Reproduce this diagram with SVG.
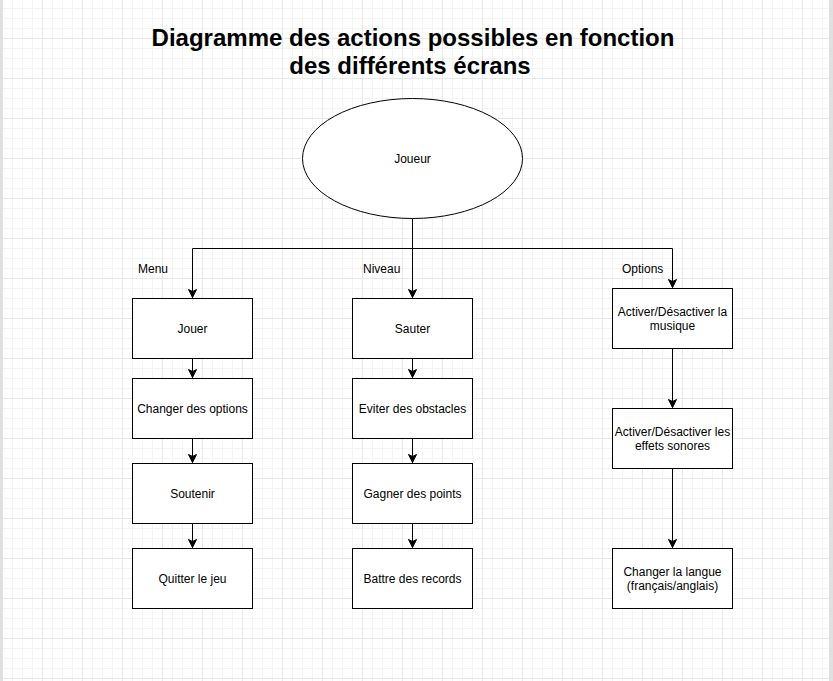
<svg xmlns="http://www.w3.org/2000/svg" width="833" height="681" viewBox="0 0 833 681">
<defs>
<pattern id="grid" x="2" y="-2" width="40" height="40" patternUnits="userSpaceOnUse">
<path d="M10.5,0V40M20.5,0V40M30.5,0V40M0,10.5H40M0,20.5H40M0,30.5H40" stroke="#f4f4f4" stroke-width="1" fill="none"/>
<path d="M0.5,0V40M0,0.5H40" stroke="#e8e8e8" stroke-width="1" fill="none"/>
</pattern>
<marker id="arr" viewBox="0 0 10 10" refX="9" refY="5" markerWidth="10" markerHeight="10" markerUnits="userSpaceOnUse" orient="auto">
<path d="M1,1 L9,5 L1,9 L3,5 Z" fill="#000" stroke="#000" stroke-width="1"/>
</marker>
<style>
.box{fill:#fff;stroke:#000;stroke-width:1}
.t{font-family:"Liberation Sans",Arial,Helvetica,sans-serif;font-size:12px;fill:#000;text-anchor:middle}
.lbl{font-family:"Liberation Sans",Arial,Helvetica,sans-serif;font-size:12px;fill:#000}
.title{font-family:"Liberation Sans",Arial,Helvetica,sans-serif;font-size:24px;font-weight:bold;fill:#000;text-anchor:middle}
.edge{fill:none;stroke:#000;stroke-width:1;marker-end:url(#arr)}
</style>
</defs>
<rect width="833" height="681" fill="#fff"/>
<rect width="833" height="681" fill="url(#grid)"/>
<rect x="0" y="0" width="2.5" height="681" fill="#e0e0e0"/>
<rect x="829" y="0" width="4" height="681" fill="#e0e0e0"/>

<g id="title">
<text class="title" x="413" y="46">Diagramme des actions possibles en fonction</text>
<text class="title" x="410" y="74">des différents écrans</text>
</g>

<g id="labels">
<text class="lbl" x="138" y="273">Menu</text>
<text class="lbl" x="363" y="273">Niveau</text>
<text class="lbl" x="622" y="273">Options</text>
</g>

<g id="connectors">
<path class="edge" d="M412.5,218.5V248.5H192.5V297.5"/>
<path class="edge" d="M412.5,218.5V297.5"/>
<path class="edge" d="M412.5,218.5V248.5H672.5V287.5"/>
<path class="edge" d="M192.5,358.5V377.5"/>
<path class="edge" d="M192.5,438.5V462.5"/>
<path class="edge" d="M192.5,523.5V547.5"/>
<path class="edge" d="M412.5,358.5V377.5"/>
<path class="edge" d="M412.5,438.5V462.5"/>
<path class="edge" d="M412.5,523.5V547.5"/>
<path class="edge" d="M672.5,348.5V407.5"/>
<path class="edge" d="M672.5,468.5V547.5"/>
</g>

<g id="joueur">
<ellipse class="box" cx="412.5" cy="158.5" rx="110" ry="60"/>
<text class="t" x="412.5" y="163">Joueur</text>
</g>

<g id="jouer"><rect class="box" x="132.5" y="298.5" width="120" height="60"/><text class="t" x="192.5" y="333">Jouer</text></g>
<g id="changer-options"><rect class="box" x="132.5" y="378.5" width="120" height="60"/><text class="t" x="192.5" y="413">Changer des options</text></g>
<g id="soutenir"><rect class="box" x="132.5" y="463.5" width="120" height="60"/><text class="t" x="192.5" y="498">Soutenir</text></g>
<g id="quitter"><rect class="box" x="132.5" y="548.5" width="120" height="60"/><text class="t" x="192.5" y="583">Quitter le jeu</text></g>

<g id="sauter"><rect class="box" x="352.5" y="298.5" width="120" height="60"/><text class="t" x="412.5" y="333">Sauter</text></g>
<g id="eviter"><rect class="box" x="352.5" y="378.5" width="120" height="60"/><text class="t" x="412.5" y="413">Eviter des obstacles</text></g>
<g id="gagner"><rect class="box" x="352.5" y="463.5" width="120" height="60"/><text class="t" x="412.5" y="498">Gagner des points</text></g>
<g id="battre"><rect class="box" x="352.5" y="548.5" width="120" height="60"/><text class="t" x="412.5" y="583">Battre des records</text></g>

<g id="musique"><rect class="box" x="612.5" y="288.5" width="120" height="60"/><text class="t" x="672.5" y="316">Activer/Désactiver la</text><text class="t" x="672.5" y="330">musique</text></g>
<g id="effets"><rect class="box" x="612.5" y="408.5" width="120" height="60"/><text class="t" x="672.5" y="436">Activer/Désactiver les</text><text class="t" x="672.5" y="450">effets sonores</text></g>
<g id="langue"><rect class="box" x="612.5" y="548.5" width="120" height="60"/><text class="t" x="672.5" y="576">Changer la langue</text><text class="t" x="672.5" y="590">(français/anglais)</text></g>
</svg>
